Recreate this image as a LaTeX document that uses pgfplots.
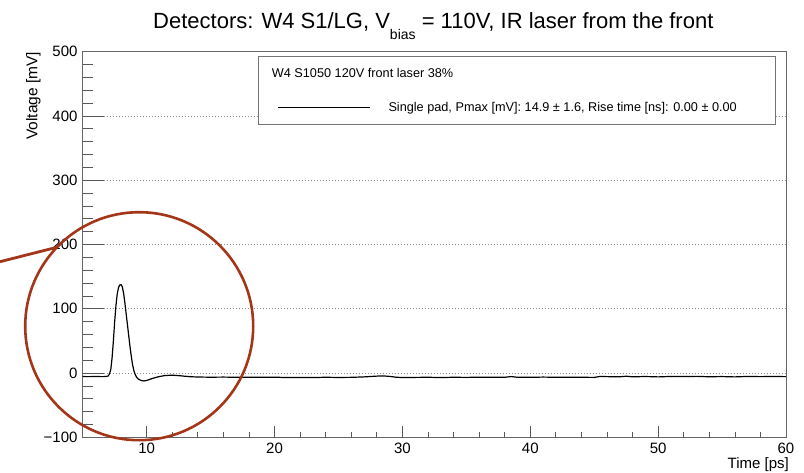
\documentclass[border=0pt]{standalone}
\usepackage{fontspec}
\setmainfont{Liberation Sans}
\usepackage{pgfplots}
\pgfplotsset{compat=1.18}
\definecolor{circred}{RGB}{163,54,24}

\begin{document}
\begin{tikzpicture}[x=1pt,y=1pt]
\path[use as bounding box] (0,0) rectangle (804,472);
\begin{axis}[
  at={(82.7pt,34.7pt)}, anchor=south west,
  width=703.3pt, height=385.6pt, scale only axis,
  xmin=5, xmax=60, ymin=-100, ymax=500,
  xtick={10,20,...,60}, ytick={-100,0,...,500},
  yticklabels={−100,0,100,200,300,400,500},
  minor x tick num=4, minor y tick num=4,
  tick pos=left, tick align=inside,
  /pgf/number format/assume math mode=true,
  xtick style={/pgfplots/major tick length=11.5pt,/pgfplots/minor tick length=5.8pt, black!65, line width=0.7pt},
  ytick style={/pgfplots/major tick length=21pt,/pgfplots/minor tick length=10.5pt, black!65, line width=0.7pt},
  ymajorgrids, y grid style={black!45, dash pattern=on 1pt off 2pt, line width=0.6pt},
  axis line style={black!60, line width=0.8pt},
  ticklabel style={font=\fontsize{15}{15}\selectfont},
  yticklabel style={inner sep=0pt, anchor=east, xshift=-5pt},
  xticklabel style={inner sep=0pt, anchor=north, yshift=-5.8pt},
  ylabel={Voltage [mV]},
  ylabel style={at={(axis description cs:-0.070,1)}, anchor=east, inner sep=0pt, font=\fontsize{15.5}{15.5}\selectfont},
  xlabel={Time [ps]},
  xlabel style={at={(axis description cs:1,0)}, anchor=base east, inner sep=0pt, yshift=-31.2pt, xshift=3pt, font=\fontsize{15}{15}\selectfont},
  legend style={draw=none, fill=none, at={(axis description cs:0.2767,0.8558)}, anchor=west, inner sep=0pt, outer sep=0pt,
    font=\fontsize{12.7}{14}\selectfont, cells={anchor=west},
    /tikz/every odd column/.append style={column sep=16pt}},
  legend image code/.code={\draw[#1] (0pt,0pt) -- (92pt,0pt);},
]
\fill[white] (axis description cs:0.2497,0.8117) rectangle (axis description cs:0.9853,0.9870);
\draw[black!55, line width=0.8pt] (axis description cs:0.2497,0.8117) rectangle (axis description cs:0.9853,0.9870);
\node[anchor=base west, inner sep=0pt, font=\fontsize{12.7}{14}\selectfont] at (axis description cs:0.2687,0.9336) {W4 S1050 120V front laser 38\%};
\addplot[black, line width=1.2pt] table {
x y
5.0 -5.5
5.5 -5.6
6.0 -5.4
6.5 -5.6
6.8 -5.5
7.0 -4.5
7.1 -1
7.2 6
7.3 24
7.4 50
7.5 80
7.6 105
7.7 123
7.8 133
7.9 137
8.0 137.5
8.1 134
8.2 124
8.3 109
8.4 92
8.5 75
8.6 58
8.7 41
8.8 26
8.9 13
9.0 4
9.1 -2
9.2 -6
9.3 -8.5
9.4 -10
9.6 -11.8
9.8 -12.3
10.0 -11.5
10.3 -9.5
10.6 -7.5
11.0 -5.5
11.4 -4
11.8 -3.5
12.2 -3.6
12.6 -4.2
13.0 -5
13.5 -5.8
14 -6.2
15 -6.5
16 -6.3
17 -6.6
18 -6.4
19 -6.7
20 -6.5
21 -7
22 -6.8
23 -7
24 -6.6
25 -6.9
26 -6.7
27 -6.0
28 -4.8
28.5 -4.5
29 -5.2
29.5 -6.5
30 -7
31 -6.8
32 -6.6
33 -7
34 -6.6
35 -6.8
36 -6.5
37 -6.7
38 -6.6
38.5 -5.5
39 -6.6
40 -6.7
41 -6.3
42 -6.6
43 -6.7
44 -6.6
45 -6.8
45.5 -5.2
46 -5.6
47 -5.8
47.5 -5
48 -5.9
49 -5.4
50 -6
51 -5.3
52 -5.5
53 -5.2
54 -5.8
55 -5.5
56 -6
57 -5.3
58 -5.6
59 -5.4
60 -5.6
};
\addlegendentry{Single pad, Pmax [mV]: 14.9 ± 1.6, Rise time [ns]: 0.00 ± 0.00}
\end{axis}
\node[anchor=base west, inner sep=0pt, font=\fontsize{22}{26}\selectfont] at (153,443.7) {Detectors: W4 S1/LG, V\raisebox{-11pt}{\fontsize{14}{14}\selectfont bias} = 110V, IR laser from the front};
\draw[circred, line width=2.6pt] (139.2,145.8) circle[radius=114pt];
\draw[circred, line width=2.8pt] (0,210.3) -- (56,224.5);
\end{tikzpicture}
\end{document}
